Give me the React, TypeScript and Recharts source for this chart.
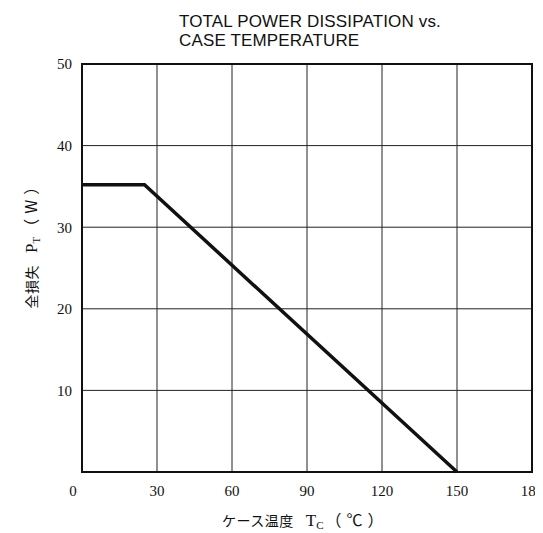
import React from "react";
import { LineChart, Line, XAxis, YAxis, CartesianGrid, ReferenceArea } from "recharts";

const tempC = [0, 25, 150];
const powerW = [35.2, 35.2, 0];
const xTicks = [0, 30, 60, 90, 120, 150, 180];
const yTicks = [10, 20, 30, 40, 50];
const titleLines = ["TOTAL POWER DISSIPATION vs.", "CASE TEMPERATURE"];

const data = tempC.map((t, i) => ({ t, p: powerW[i] }));

const XTick = (props: any) => {
  const { x, y, payload } = props;
  const dx = payload.value === 0 ? -9 : 0;
  return (
    <text x={x + dx} y={y} dy={12} textAnchor="middle" fontFamily="Liberation Serif" fontSize={15} fill="#111">
      {payload.value}
    </text>
  );
};

const AxisName = ({ jp, sym, sub, unit }: { jp: string; sym: string; sub: string; unit: string }) => (
  <div style={{ display: "flex", alignItems: "baseline", whiteSpace: "nowrap", color: "#111", lineHeight: "20px" }}>
    <span style={{ fontFamily: "Noto Sans CJK JP", fontSize: 14, letterSpacing: 0.5 }}>{jp}</span>
    <span style={{ fontFamily: "Liberation Serif", fontSize: 17, marginLeft: 12 }}>{sym}</span>
    <span style={{ fontFamily: "Liberation Serif", fontSize: 11, position: "relative", top: 3 }}>{sub}</span>
    <span style={{ fontFamily: "Noto Sans CJK JP", fontSize: 16, letterSpacing: 5, marginLeft: 2 }}>{unit}</span>
  </div>
);

export default function App() {
  return (
    <div style={{ position: "relative", width: 535, height: 525, background: "#fff" }}>
      <LineChart
        width={535}
        height={525}
        data={data}
        margin={{ top: 56, right: 11, bottom: 0, left: 0 }}
        style={{ overflow: "visible" }}
      >
        <CartesianGrid stroke="#222" strokeWidth={1} />
        <XAxis
          dataKey="t"
          type="number"
          domain={[0, 180]}
          ticks={xTicks}
          height={61}
          axisLine={false}
          tickLine={false}
          tick={<XTick />}
          tickMargin={6}
          interval={0}
        />
        <YAxis
          type="number"
          domain={[0, 50]}
          ticks={yTicks}
          width={74}
          axisLine={false}
          tickLine={false}
          tickMargin={4}
          interval={0}
          tick={{ fontFamily: "Liberation Serif", fontSize: 15, fill: "#111" }}
        />
        <ReferenceArea x1={0} x2={180} y1={0} y2={50} fill="none" stroke="#111" strokeWidth={2} />
        <Line type="linear" dataKey="p" stroke="#111" strokeWidth={3.5} dot={false} isAnimationActive={false} />
      </LineChart>
      <div
        style={{
          position: "absolute",
          left: 171,
          top: 4,
          fontFamily: "Liberation Sans",
          fontSize: 17,
          lineHeight: "19px",
          color: "#111",
          letterSpacing: 0.15,
        }}
      >
        {titleLines.map((l) => (
          <div key={l}>{l}</div>
        ))}
      </div>
      <div style={{ position: "absolute", left: 214, top: 501 }}>
        <AxisName jp="ケース温度" sym="T" sub="C" unit="（℃）" />
      </div>
      <div
        style={{
          position: "absolute",
          left: 22 - 90,
          top: 233 - 10,
          width: 180,
          height: 20,
          transform: "rotate(-90deg)",
          transformOrigin: "90px 10px",
          display: "flex",
          justifyContent: "center",
        }}
      >
        <AxisName jp="全損失" sym="P" sub="T" unit="（W）" />
      </div>
    </div>
  );
}
